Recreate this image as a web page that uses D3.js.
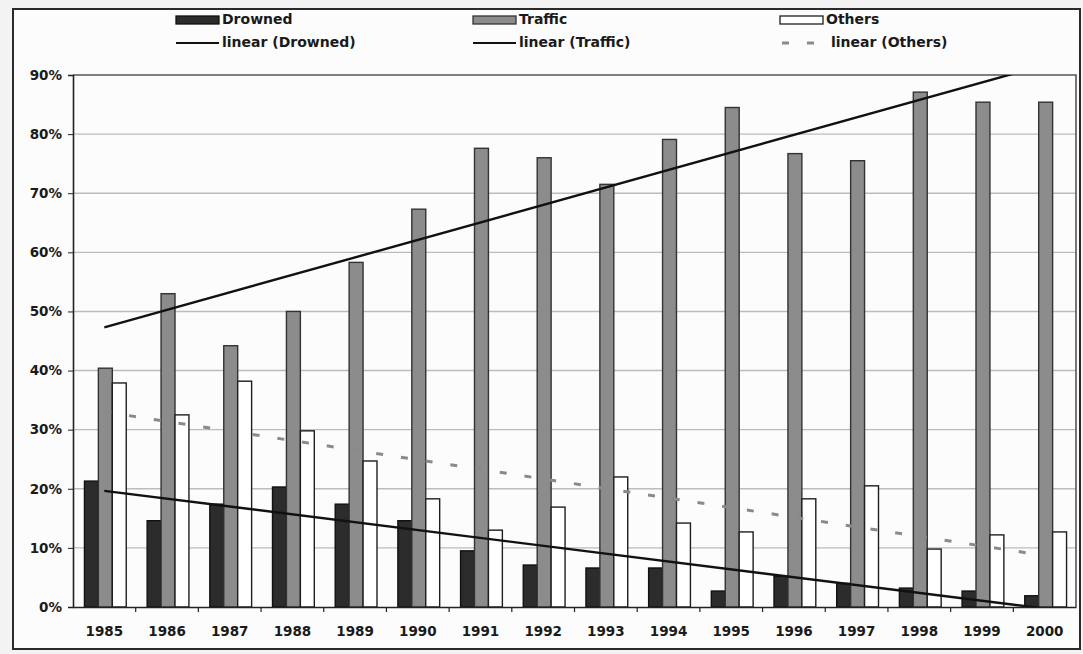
<!DOCTYPE html>
<html>
<head>
<meta charset="utf-8">
<script src="https://cdn.jsdelivr.net/npm/d3@7/dist/d3.min.js"></script>
<style>
  body { margin: 0; background: #f3f3f3; }
  svg text { font-family: "DejaVu Sans", "Liberation Sans", sans-serif; font-weight: bold; fill: #1a1a1a; }
</style>
</head>
<body>
<div id="container1"></div>
<script>
// Chart data (percent of cases)
var years = ['1985','1986','1987','1988','1989','1990','1991','1992','1993','1994','1995','1996','1997','1998','1999','2000'];
var drowned = [21.3, 14.6, 17.4, 20.3, 17.4, 14.6, 9.5, 7.1, 6.6, 6.6, 2.7, 5.2, 4.0, 3.2, 2.7, 1.9];
var traffic = [40.4, 53.0, 44.2, 50.0, 58.3, 67.3, 77.6, 76.0, 71.5, 79.1, 84.5, 76.7, 75.5, 87.1, 85.4, 85.4];
var others  = [37.9, 32.5, 38.2, 29.8, 24.7, 18.3, 13.0, 16.9, 22.0, 14.2, 12.7, 18.3, 20.5, 9.8, 12.2, 12.7];
var seriesNames = ['Drowned', 'Traffic', 'Others'];
var yTicks = [0, 10, 20, 30, 40, 50, 60, 70, 80, 90];

var svgWidth = 1083, svgHeight = 654;
var plot = { left: 73, right: 1076, top: 75, bottom: 607 };

var svg = d3.select('#container1')
    .append('svg')
        .attr('width', svgWidth)
        .attr('height', svgHeight);

// outer frame
svg.append('rect')
    .attr('x', 13).attr('y', 9)
    .attr('width', 1067).attr('height', 640)
    .attr('fill', '#fcfcfc')
    .attr('stroke', '#2a2a2a')
    .attr('stroke-width', 2);

var xScale = d3.scaleBand()
    .domain(years)
    .range([plot.left, plot.right]);

var bw = xScale.bandwidth();
// Excel style gap width of 50%
var xSub = d3.scaleBand()
    .domain(seriesNames)
    .range([bw / 6 + 1, bw * 5 / 6 + 1]);

var yScale = d3.scaleLinear()
    .domain([0, 90])
    .range([plot.bottom, plot.top]);

// gridlines
svg.append('g')
    .selectAll('line')
    .data(yTicks.filter(function(t) { return t > 0 && t < 90; }))
    .enter()
    .append('line')
        .attr('x1', plot.left).attr('x2', plot.right)
        .attr('y1', function(d) { return yScale(d); })
        .attr('y2', function(d) { return yScale(d); })
        .attr('stroke', '#bcbcbc')
        .attr('stroke-width', 1.4);

// plot border (top + right)
svg.append('path')
    .attr('d', 'M' + plot.left + ',' + plot.top + 'H' + plot.right + 'V' + plot.bottom)
    .attr('fill', 'none')
    .attr('stroke', '#555')
    .attr('stroke-width', 1.6);

var series = [
    { name: 'Drowned', values: drowned, fill: '#2c2c2c', stroke: '#111' },
    { name: 'Traffic', values: traffic, fill: '#8c8c8c', stroke: '#333' },
    { name: 'Others',  values: others,  fill: '#ffffff', stroke: '#1e1e1e' }
];

// bars
series.forEach(function(s) {
    svg.append('g')
        .selectAll('rect')
        .data(s.values)
        .enter()
        .append('rect')
            .attr('x', function(d, i) { return xScale(years[i]) + xSub(s.name); })
            .attr('y', function(d) { return yScale(d); })
            .attr('width', xSub.bandwidth())
            .attr('height', function(d) { return yScale(0) - yScale(d); })
            .attr('fill', s.fill)
            .attr('stroke', s.stroke)
            .attr('stroke-width', 1.4);
});

// axes
var bottomAxis = d3.axisBottom(xScale).tickSize(0).tickPadding(19);
var leftAxis = d3.axisLeft(yScale).tickValues(yTicks).tickSize(5).tickPadding(6)
    .tickFormat(function(d) { return d + '%'; });

var gx = svg.append('g')
    .attr('transform', 'translate(0,' + plot.bottom + ')')
    .call(bottomAxis);
gx.select('.domain').attr('stroke', '#222').attr('stroke-width', 1.6);
gx.selectAll('text').attr('font-size', 13.5).attr('fill', '#1a1a1a');

// category boundary ticks
gx.append('g')
    .selectAll('line')
    .data(years.slice(1))
    .enter()
    .append('line')
        .attr('x1', function(d) { return xScale(d); })
        .attr('x2', function(d) { return xScale(d); })
        .attr('y1', 0).attr('y2', 5)
        .attr('stroke', '#222')
        .attr('stroke-width', 1.2);

var gy = svg.append('g')
    .attr('transform', 'translate(' + plot.left + ',0)')
    .call(leftAxis);
gy.select('.domain').attr('stroke', '#222').attr('stroke-width', 1.6);
gy.selectAll('.tick line').attr('stroke', '#222');
gy.selectAll('text').attr('font-size', 13.5).attr('fill', '#1a1a1a');

// linear trendlines (least squares over category index)
function linearFit(vals) {
    var n = vals.length;
    var mx = d3.mean(vals, function(d, i) { return i; });
    var my = d3.mean(vals);
    var sxy = d3.sum(vals, function(d, i) { return (i - mx) * (d - my); });
    var sxx = d3.sum(vals, function(d, i) { return (i - mx) * (i - mx); });
    var slope = sxy / sxx;
    return [
        [0, my - slope * mx],
        [n - 1, my + slope * (n - 1 - mx)]
    ];
}

svg.append('clipPath')
    .attr('id', 'plotClip')
    .append('rect')
        .attr('x', plot.left).attr('y', plot.top)
        .attr('width', plot.right - plot.left)
        .attr('height', plot.bottom - plot.top);

var trendLine = d3.line()
    .x(function(d) { return xScale(years[d[0]]) + bw / 2; })
    .y(function(d) { return yScale(d[1]); });

var trendStyles = {
    Drowned: { stroke: '#111', width: 2.4, dash: null },
    Traffic: { stroke: '#111', width: 2.4, dash: null },
    Others:  { stroke: '#8a8a8a', width: 3, dash: '7,18' }
};

series.forEach(function(s) {
    var st = trendStyles[s.name];
    svg.append('path')
        .datum(linearFit(s.values))
        .attr('clip-path', 'url(#plotClip)')
        .attr('d', trendLine)
        .attr('fill', 'none')
        .attr('stroke', st.stroke)
        .attr('stroke-width', st.width)
        .attr('stroke-dasharray', st.dash);
});

// legend
var legendX = [176, 473, 780];
var legend = svg.append('g');
series.forEach(function(s, i) {
    var x0 = legendX[i];
    var st = trendStyles[s.name];
    legend.append('rect')
        .attr('x', x0).attr('y', 16)
        .attr('width', 43).attr('height', 8)
        .attr('fill', s.fill)
        .attr('stroke', s.stroke)
        .attr('stroke-width', 1.3);
    legend.append('text')
        .attr('x', x0 + 46).attr('y', 20)
        .attr('dominant-baseline', 'middle')
        .attr('font-size', 14)
        .text(s.name);
    legend.append('line')
        .attr('x1', s.name === 'Others' ? x0 + 2 : x0)
        .attr('x2', x0 + 43)
        .attr('y1', 43).attr('y2', 43)
        .attr('stroke', st.stroke)
        .attr('stroke-width', st.dash ? 3 : 2)
        .attr('stroke-dasharray', st.dash);
    legend.append('text')
        .attr('x', x0 + (s.name === 'Others' ? 51 : 46)).attr('y', 43)
        .attr('dominant-baseline', 'middle')
        .attr('font-size', 14)
        .text('linear (' + s.name + ')');
});
</script>
</body>
</html>
